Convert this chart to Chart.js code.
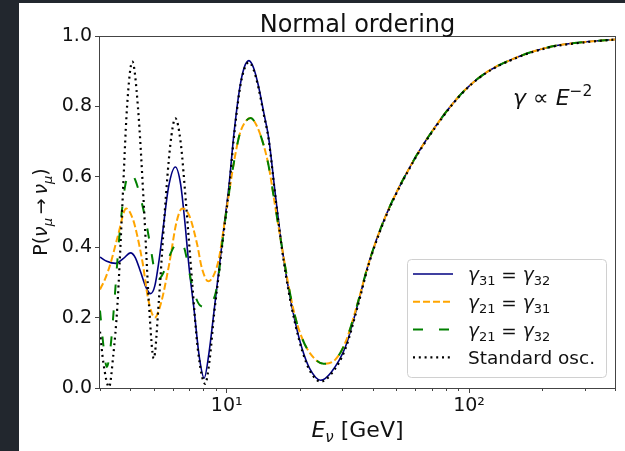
<!DOCTYPE html>
<html>
<head>
<meta charset="utf-8">
<script src="https://cdn.jsdelivr.net/npm/chart.js@4.4.0/dist/chart.umd.min.js"></script>
<style>
  html, body { margin: 0; padding: 0; background: #22272e; }
  #panel { position: absolute; left: 19px; top: 3px; width: 606px; height: 448px; background: #fff; }
  canvas { display: block; }
</style>
</head>
<body>
<div id="panel"><canvas id="chart" width="606" height="448"></canvas></div>
<script>
// --- data (E in GeV, survival probability) ---
const blueE = [3.0, 3.2, 3.48, 3.75, 4.01, 4.2, 4.41, 4.65, 4.85, 5.05, 5.25, 5.48, 5.75, 6.14, 6.45, 6.7, 7.0, 7.34, 7.7, 8.07, 8.45, 8.87, 9.3, 9.75, 10.2, 10.7, 11.3, 11.8, 12.35, 12.9, 13.5, 14.24, 14.9, 15.9, 16.9, 18.0, 19.2, 20.5, 22.0, 24.4, 27.0, 30.9, 34.5, 38.5, 45.1, 58.1, 72.5, 93.2, 116.4, 159.6, 218.8, 300, 400];
const blueP = [0.372, 0.36, 0.354, 0.368, 0.384, 0.37, 0.33, 0.285, 0.268, 0.29, 0.36, 0.46, 0.57, 0.628, 0.58, 0.48, 0.34, 0.22, 0.09, 0.028, 0.10, 0.22, 0.34, 0.46, 0.57, 0.72, 0.85, 0.91, 0.93, 0.91, 0.86, 0.78, 0.71, 0.545, 0.40, 0.28, 0.185, 0.11, 0.055, 0.022, 0.045, 0.117, 0.23, 0.354, 0.486, 0.638, 0.742, 0.837, 0.894, 0.941, 0.970, 0.983, 0.99];

const orangeE = [3.0, 3.15, 3.32, 3.55, 3.85, 4.1, 4.25, 4.5, 4.75, 5.05, 5.35, 5.8, 6.2, 6.55, 7.0, 7.54, 7.9, 8.4, 8.9, 9.3, 9.7, 10.1, 10.7, 11.3, 11.9, 12.55, 13.3, 14.2, 14.9, 15.9, 16.9, 18.0, 19.2, 20.5, 22.0, 25.1, 28.0, 30.9, 34.5, 38.5, 45.1, 58.1, 72.5, 93.2, 116.4, 159.6, 218.8, 300, 400];
const orangeP = [0.28, 0.31, 0.355, 0.43, 0.51, 0.48, 0.44, 0.355, 0.25, 0.20, 0.24, 0.355, 0.47, 0.51, 0.49, 0.41, 0.34, 0.303, 0.325, 0.37, 0.45, 0.53, 0.64, 0.72, 0.755, 0.767, 0.745, 0.69, 0.63, 0.51, 0.40, 0.29, 0.20, 0.14, 0.10, 0.069, 0.08, 0.13, 0.235, 0.354, 0.486, 0.638, 0.742, 0.837, 0.894, 0.941, 0.970, 0.983, 0.99];

const greenE = [3.0, 3.1, 3.2, 3.32, 3.43, 3.6, 3.8, 4.0, 4.2, 4.45, 4.65, 4.85, 5.05, 5.25, 5.5, 5.77, 6.1, 6.4, 6.7, 7.0, 7.35, 7.75, 8.2, 8.6, 9.0, 9.3, 9.6, 10.1, 10.7, 11.3, 11.9, 12.55, 13.3, 14.2, 14.9, 15.9, 16.9, 18.0, 19.2, 20.5, 22.0, 25.1, 28.0, 30.9, 34.5, 38.5, 45.1, 58.1, 72.5, 93.2, 116.4, 159.6, 218.8, 300, 400];
const greenP = [0.22, 0.12, 0.06, 0.12, 0.235, 0.425, 0.57, 0.61, 0.59, 0.53, 0.47, 0.40, 0.33, 0.31, 0.33, 0.37, 0.405, 0.415, 0.395, 0.33, 0.27, 0.235, 0.23, 0.24, 0.27, 0.33, 0.415, 0.53, 0.64, 0.72, 0.755, 0.767, 0.745, 0.69, 0.63, 0.51, 0.40, 0.29, 0.20, 0.14, 0.10, 0.069, 0.08, 0.13, 0.235, 0.354, 0.486, 0.638, 0.742, 0.837, 0.894, 0.941, 0.970, 0.983, 0.99];

const stdE = [3.0, 3.1, 3.27, 3.4, 3.54, 3.71, 3.88, 4.08, 4.3, 4.55, 4.78, 5.0, 5.25, 5.55, 5.85, 6.14, 6.45, 6.8, 7.2, 7.6, 8.15, 8.5, 8.87, 9.3, 9.75, 10.2, 10.7, 11.3, 11.8, 12.35, 12.9, 13.5, 14.24, 14.9, 15.9, 16.9, 18.0, 19.2, 20.5, 22.0, 24.4, 27.0, 30.9, 34.5, 38.5, 45.1, 58.1, 72.5, 93.2, 116.4, 159.6, 218.8, 300, 400];
const stdP = [0.16, 0.07, 0.003, 0.09, 0.235, 0.52, 0.80, 0.927, 0.80, 0.52, 0.235, 0.084, 0.25, 0.50, 0.69, 0.766, 0.70, 0.52, 0.30, 0.11, 0.012, 0.08, 0.21, 0.33, 0.45, 0.56, 0.71, 0.845, 0.905, 0.925, 0.905, 0.855, 0.775, 0.705, 0.54, 0.395, 0.275, 0.18, 0.105, 0.05, 0.018, 0.04, 0.112, 0.225, 0.35, 0.483, 0.636, 0.74, 0.836, 0.893, 0.94, 0.969, 0.982, 0.99];

const seriesLabels = ['γ31 = γ32', 'γ21 = γ31', 'γ21 = γ32', 'Standard osc.'];

const xMajor = [10, 100];
const xMajorLabels = ['10¹', '10²'];
const xMinor = [3, 4, 5, 6, 7, 8, 9, 20, 30, 40, 50, 60, 70, 80, 90, 200, 300, 400];
const yTicks = [0, 0.2, 0.4, 0.6, 0.8, 1.0];

const FONT = 'DejaVu Sans';

function pts(xs, ys) {
    return xs.map((x, i) => ({ x: x, y: ys[i] }));
}

function fontOf(size, italic) {
    return (italic ? 'italic ' : '') + size + 'px "' + FONT + '"';
}

// parts: [text, size, italic, dy]
function drawRich(ctx, parts, x, y, align) {
    let w = 0;
    parts.forEach(p => { ctx.font = fontOf(p[1], p[2]); w += ctx.measureText(p[0]).width; });
    let cx = align === 'center' ? x - w / 2 : x;
    ctx.textAlign = 'left';
    ctx.textBaseline = 'alphabetic';
    parts.forEach(p => {
        ctx.font = fontOf(p[1], p[2]);
        ctx.fillText(p[0], cx, y + (p[3] || 0));
        cx += ctx.measureText(p[0]).width;
    });
}

function labelParts(label, size) {
    const sub = Math.round(size * 0.7);
    const out = [];
    label.split(/(γ\d\d)/).forEach(s => {
        if (!s) return;
        if (s[0] === 'γ') {
            out.push(['γ', size, true, 0]);
            out.push([s.slice(1), sub, false, 4]);
        } else {
            out.push([s, size, false, 0]);
        }
    });
    return out;
}

const extras = {
    id: 'extras',
    afterDraw(chart) {
        const ctx = chart.ctx;
        const a = chart.chartArea;
        const xs = chart.scales.x;
        ctx.save();

        // frame
        ctx.strokeStyle = '#444';
        ctx.lineWidth = 1;
        ctx.strokeRect(a.left - 0.5, a.top + 0.5, a.right - a.left + 1, a.bottom - a.top);

        // minor x ticks
        ctx.beginPath();
        xMinor.forEach(v => {
            const px = Math.round(xs.getPixelForValue(v)) + 0.5;
            ctx.moveTo(px, a.bottom);
            ctx.lineTo(px, a.bottom + 3);
        });
        ctx.stroke();

        ctx.fillStyle = '#111';
        // title
        ctx.font = fontOf(24, false);
        ctx.textAlign = 'center';
        ctx.textBaseline = 'alphabetic';
        ctx.fillText('Normal ordering', (a.left + a.right) / 2, a.top - 4);

        // x label
        drawRich(ctx, [['E', 22, true, 0], ['ν', 15, true, 5], [' [GeV]', 22, false, 0]],
            (a.left + a.right) / 2, a.bottom + 49, 'center');

        // y label
        ctx.save();
        ctx.translate(28, (a.top + a.bottom) / 2);
        ctx.rotate(-Math.PI / 2);
        drawRich(ctx, [['P(', 19, false, 0], ['ν', 19, true, 0], ['μ', 13, true, 5],
            ['\u2009→\u2009', 19, false, 0], ['ν', 19, true, 0], ['μ', 13, true, 5], [')', 19, false, 0]],
            0, 0, 'center');
        ctx.restore();

        // annotation
        drawRich(ctx, [['γ', 22, true, 0], [' ∝ ', 22, false, 0], ['E', 22, true, 0], ['−2', 15.5, false, -9]],
            a.right - 102, a.top + 69, 'left');

        // legend
        const bx = a.right - 208, by = a.bottom - 129, bw = 199, bh = 118;
        ctx.beginPath();
        ctx.roundRect(bx + 0.5, by + 0.5, bw, bh, 4);
        ctx.fillStyle = 'rgba(255,255,255,0.8)';
        ctx.fill();
        ctx.strokeStyle = '#d0d0d0';
        ctx.stroke();
        chart.data.datasets.forEach((ds, i) => {
            const ry = by + 15 + i * 27.8;
            ctx.save();
            ctx.strokeStyle = ds.borderColor;
            ctx.lineWidth = ds.borderWidth;
            ctx.setLineDash(ds.borderDash || []);
            ctx.beginPath();
            ctx.moveTo(bx + 6, ry);
            ctx.lineTo(bx + 46, ry);
            ctx.stroke();
            ctx.restore();
            ctx.fillStyle = '#111';
            drawRich(ctx, labelParts(ds.label, 18.5), bx + 61, ry + 7, 'left');
        });
        ctx.restore();
    }
};

new Chart(document.getElementById('chart'), {
    type: 'line',
    data: {
        datasets: [
            { label: seriesLabels[0], data: pts(blueE, blueP), borderColor: '#000080', borderWidth: 1.6, order: 4 },
            { label: seriesLabels[1], data: pts(orangeE, orangeP), borderColor: '#ffa500', borderWidth: 2, borderDash: [7, 3], order: 3 },
            { label: seriesLabels[2], data: pts(greenE, greenP), borderColor: '#008000', borderWidth: 2, borderDash: [10, 16], order: 2 },
            { label: seriesLabels[3], data: pts(stdE, stdP), borderColor: '#000000', borderWidth: 2.2, borderDash: [2, 3.8], order: 1 }
        ]
    },
    options: {
        responsive: false,
        animation: false,
        events: [],
        layout: { padding: { top: 33, right: 10, left: 0, bottom: 0 } },
        elements: {
            point: { radius: 0 },
            line: { tension: 0.4, cubicInterpolationMode: 'monotone', fill: false, borderCapStyle: 'butt' }
        },
        plugins: {
            legend: { display: false },
            tooltip: { enabled: false },
            title: { display: false }
        },
        scales: {
            x: {
                type: 'logarithmic',
                min: 3,
                max: 400,
                afterBuildTicks: s => { s.ticks = xMajor.map(v => ({ value: v })); },
                afterFit: s => { s.height = 63; },
                ticks: {
                    font: { family: FONT, size: 19 },
                    color: '#111',
                    padding: 2,
                    maxRotation: 0,
                    callback: (v, i) => xMajorLabels[i]
                },
                grid: { drawOnChartArea: false, tickLength: 5, color: '#444' },
                border: { display: false }
            },
            y: {
                min: 0,
                max: 1,
                afterBuildTicks: s => { s.ticks = yTicks.map(v => ({ value: v })); },
                afterFit: s => { s.width = 81; },
                ticks: {
                    font: { family: FONT, size: 19 },
                    color: '#111',
                    padding: 3,
                    callback: v => v.toFixed(1)
                },
                grid: { drawOnChartArea: false, tickLength: 5, color: '#444' },
                border: { display: false }
            }
        }
    },
    plugins: [extras]
});
</script>
</body>
</html>
